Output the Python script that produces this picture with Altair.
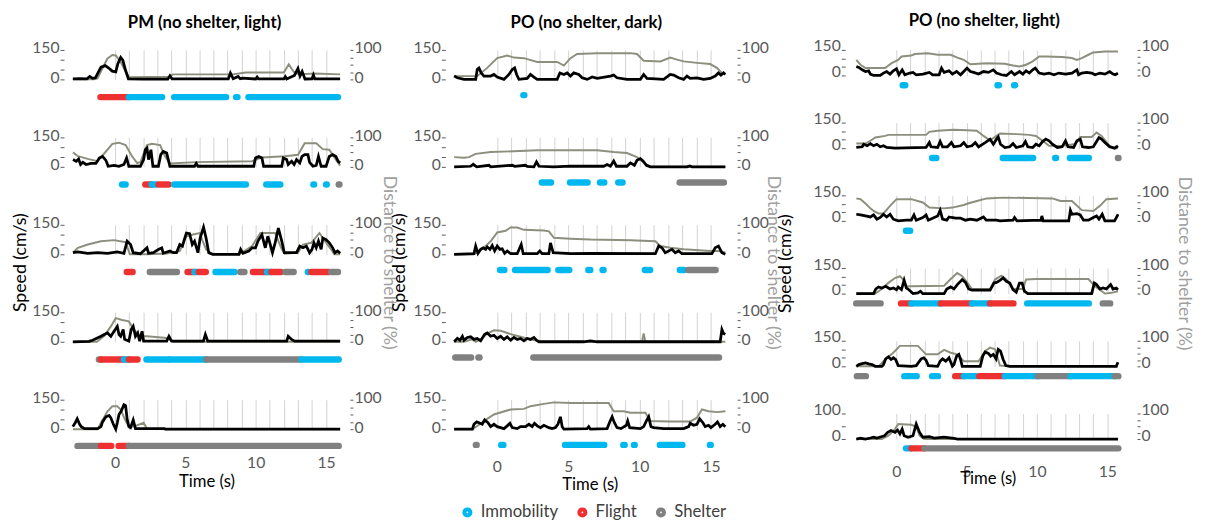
import altair as alt
import pandas as pd

# ---------------- data ----------------
T_DOMAIN = [-3, 16]
GRID_SECONDS = list(range(0, 16))
X_LABEL_SECONDS = [0, 5, 10, 15]
BEHAVIOURS = ["Immobility", "Flight", "Shelter"]
BEHAVIOUR_COLOURS = ["#00B8F0", "#EE3030", "#808080"]
BEHAVIOUR_CODE = {"I": "Immobility", "F": "Flight", "S": "Shelter"}
COLUMN_TITLES = ["PM (no shelter, light)", "PO (no shelter, dark)", "PO (no shelter, light)"]
SPEED_MAX = [[150] * 5, [150] * 5, [150, 150, 150, 150, 150, 100]]

# ---- PM (no shelter, light) ----
pm_light_speed = [
    [(-3, 3), (-2.5, 4), (-2.0, 3), (-1.8, 15), (-1.6, 5), (-1.4, 8), (-1.25, 28), (-1.0, 62), (-0.7, 70),
     (-0.45, 58), (-0.2, 42), (0.05, 38), (0.2, 80), (0.4, 112), (0.55, 98), (0.75, 45), (0.95, 2), (2, 1),
     (3.75, 1), (3.9, 18), (4.05, 2), (8.05, 2), (8.2, 32), (8.4, 3), (8.75, 15), (8.9, 3), (9.05, 6), (10.0, 2),
     (10.1, 12), (10.2, 2), (12.0, 2), (12.1, 14), (12.2, 2), (12.75, 20), (13.0, 55), (13.15, 18), (13.3, 40),
     (13.5, 2), (14.0, 3), (14.1, 22), (14.2, 2), (16.0, 3)],
    [(-2.99, 37), (-2.76, 28), (-2.59, 40), (-2.45, 12), (-2.29, 23), (-2.06, 12), (-1.71, 17), (-1.36, 17),
     (-1.12, 45), (-0.89, 53), (-0.65, 33), (-0.49, 3), (-0.07, 7), (0.28, 3), (0.63, 12), (0.82, 45), (0.98, 3),
     (1.8, 3), (2.03, 37), (2.15, 87), (2.27, 95), (2.38, 37), (2.55, 87), (2.69, 3), (3.08, 3), (3.25, 62),
     (3.43, 78), (3.67, 70), (3.9, 3), (5.65, 3), (5.77, 17), (5.89, 3), (9.86, 3), (9.98, 45), (10.21, 53),
     (10.44, 45), (10.56, 3), (11.85, 3), (11.96, 45), (12.2, 37), (12.31, 12), (12.55, 28), (12.73, 12),
     (12.9, 37), (13.13, 20), (13.29, 53), (13.48, 62), (13.71, 62), (13.83, 23), (14.07, 3), (14.3, 7),
     (14.46, 53), (14.65, 3), (15.0, 3), (15.23, 53), (15.47, 62), (15.7, 53), (15.86, 28), (16.0, 20)],
    [(-2.99, 8), (-2.64, 12), (-1.94, 5), (-1.24, 8), (-0.54, 5), (0.16, 12), (0.63, 5), (0.86, 67), (1.1, 50),
     (1.29, 8), (1.8, 3), (2.27, 33), (2.38, 5), (2.73, 8), (3.08, 25), (3.32, 33), (3.43, 5), (3.9, 17),
     (4.14, 8), (4.37, 8), (4.6, 50), (4.79, 42), (4.91, 72), (5.07, 108), (5.3, 105), (5.49, 50), (5.65, 67),
     (5.89, 8), (6.05, 83), (6.29, 138), (6.47, 83), (6.66, 8), (6.94, 0), (8.81, 0), (8.93, 25), (9.09, 5),
     (9.51, 17), (9.74, 33), (9.98, 33), (10.16, 67), (10.44, 100), (10.68, 33), (10.86, 92), (11.03, 50),
     (11.19, 8), (11.38, 58), (11.61, 133), (11.85, 67), (12.03, 8), (12.9, 8), (13.13, 42), (13.36, 33),
     (13.6, 42), (13.83, 8), (14.0, 25), (14.14, 58), (14.3, 33), (14.46, 67), (14.65, 25), (14.77, 83),
     (15.0, 75), (15.23, 58), (15.47, 33), (15.63, 8), (15.82, 17), (16.0, 5)],
    [(-3, 0), (-1.84, 2), (-1.6, 8), (-1.0, 28), (-0.77, 37), (-0.54, 45), (-0.3, 28), (-0.07, 53), (0.16, 78),
     (0.28, 37), (0.4, 28), (0.58, 62), (0.68, 12), (0.98, 3), (1.15, 62), (1.29, 78), (1.45, 28), (1.61, 45),
     (1.75, 3), (1.92, 53), (2.03, 3), (3.67, 3), (3.83, 28), (4.02, 3), (6.28, 3), (6.42, 37), (6.59, 3),
     (12.2, 3), (12.31, 28), (12.55, 12), (12.78, 3), (16.0, 3)],
    [(-3, 13), (-2.83, 33), (-2.69, 53), (-2.52, 25), (-2.4, 13), (-2.17, 3), (-1.24, 3), (-1.0, 13),
     (-0.89, 37), (-0.65, 63), (-0.42, 70), (-0.3, 58), (-0.12, 25), (0.05, 0), (0.16, 33), (0.28, 75),
     (0.44, 92), (0.63, 125), (0.75, 120), (0.86, 50), (0.98, 13), (1.1, 8), (1.29, 47), (1.45, 3), (3.5, 3),
     (3.6, 0), (16.0, 0)],
]
pm_light_dist = [
    [(-3, 0), (-1.5, 0), (-1.25, 3), (-0.9, 37), (-0.55, 70), (-0.2, 83), (0.05, 81), (0.4, 59), (0.7, 31),
     (1.0, 7), (3.9, 9), (4.1, 17), (8.35, 17), (9.3, 23), (12.0, 23), (12.35, 51), (12.7, 26), (13.05, 17),
     (14.2, 20), (16, 17)],
    [(-2.99, 49), (-2.64, 36), (-1.94, 27), (-1.24, 19), (-0.65, 52), (-0.19, 78), (0.28, 82), (0.75, 74),
     (1.21, 36), (1.57, 13), (1.8, 16), (2.27, 74), (2.62, 78), (3.2, 74), (3.55, 36), (3.9, 11), (5.77, 16),
     (9.74, 19), (10.44, 32), (12.08, 36), (13.01, 41), (13.48, 80), (14.3, 80), (14.77, 60), (15.23, 58),
     (15.7, 24), (16.0, 4)],
    [(-2.99, 6), (-2.64, 22), (-1.94, 33), (-1.0, 44), (-0.07, 48), (0.75, 41), (1.05, 0), (2.27, 0), (3.67, 3),
     (4.6, 11), (5.07, 61), (5.54, 67), (6.0, 72), (6.47, 17), (6.94, 0), (8.81, 0), (9.74, 28), (10.33, 72),
     (11.38, 72), (11.85, 17), (12.08, 2), (13.01, 6), (13.36, 33), (13.95, 39), (14.53, 72), (15.0, 39),
     (15.35, 17), (15.58, 0), (16.0, 0)],
    [(-3, 0), (-1.3, 0), (-0.77, 19), (-0.3, 52), (0.05, 80), (0.5, 74), (0.98, 69), (1.33, 41), (1.8, 19),
     (2.27, 19), (3.67, 13), (4.14, 0), (16.0, 0)],
    [(-3, 0), (-1.24, 0), (-1.0, 22), (-0.54, 61), (-0.19, 78), (0.16, 78), (0.4, 67), (0.75, 28), (0.98, 11),
     (1.33, 9), (2.03, 22), (2.27, 2), (3.67, 0), (16.0, 0)],
]
pm_light_events = [
    [(-1.04, 0.98, "F"), (0.98, 3.35, "I"), (4.2, 7.9, "I"), (8.6, 8.7, "I"), (9.48, 15.85, "I")],
    [(0.5, 0.75, "I"), (2.15, 2.6, "F"), (2.6, 2.9, "I"), (3.1, 3.8, "F"), (4.2, 9.3, "I"), (10.75, 11.75, "I"),
     (14.1, 14.15, "I"), (15.0, 15.05, "I"), (15.9, 15.95, "S")],
    [(0.83, 1.25, "F"), (2.47, 4.4, "S"), (5.15, 5.65, "F"), (5.65, 5.85, "I"), (5.95, 6.45, "F"),
     (7.14, 8.5, "I"), (8.9, 9.2, "S"), (9.8, 10.8, "F"), (10.8, 11.1, "I"), (11.1, 11.8, "F"),
     (12.1, 12.7, "S"), (13.7, 13.75, "I"), (13.95, 15.2, "F"), (15.35, 15.85, "S")],
    [(-1.15, -1.0, "S"), (-1.0, 0.63, "F"), (0.63, 0.98, "I"), (0.98, 1.6, "F"), (2.23, 3.8, "I"),
     (3.9, 6.47, "I"), (6.47, 13.25, "S"), (13.25, 15.9, "I")],
    [(-2.67, -1.0, "S"), (-1.0, -0.27, "F"), (0.25, 0.98, "F"), (0.98, 15.9, "S")],
]

# ---- PO (no shelter, dark) ----
po_dark_speed = [
    [(-3.0, 17), (-2.77, 8), (-2.31, 0), (-1.49, 0), (-1.38, 50), (-1.26, 58), (-1.1, 33), (-0.91, 17),
     (-0.44, 17), (-0.21, 25), (0.02, 12), (0.49, 0), (0.84, 25), (1.07, 50), (1.24, 58), (1.38, 25), (1.54, 0),
     (2.12, 5), (2.35, 25), (2.59, 12), (2.82, 0), (4.22, 0), (4.41, 33), (4.69, 25), (4.92, 33), (5.15, 17),
     (5.38, 33), (5.73, 25), (5.97, 8), (6.32, 0), (6.67, 12), (7.02, 5), (7.95, 17), (8.18, 22), (8.41, 8),
     (9.11, 0), (10.05, 0), (10.28, 25), (10.51, 5), (11.68, 0), (12.14, 25), (12.38, 22), (12.73, 8),
     (13.08, 0), (13.31, 17), (13.54, 5), (14.01, 8), (14.48, 0), (14.94, 5), (15.29, 17), (15.52, 33),
     (15.69, 22), (15.87, 33), (16.0, 25)],
    [(-3, 0), (-1.84, 3), (-1.66, 13), (-1.42, 0), (-0.56, 8), (-0.44, 0), (1.07, 8), (1.24, 3), (2.0, 8),
     (2.12, 2), (2.59, 0), (2.77, 25), (2.94, 3), (3.99, 0), (5.15, 3), (7.48, 3), (7.72, 12), (7.95, 3),
     (8.18, 30), (8.37, 3), (9.11, 3), (9.35, 20), (9.63, 8), (9.81, 33), (10.05, 42), (10.23, 30), (10.47, 8),
     (10.75, 0), (13.31, 0), (13.5, 5), (13.66, 0), (16.0, 0)],
    [(-3, 0), (-1.61, 3), (-1.49, 42), (-1.33, 5), (-1.14, 25), (-0.96, 33), (-0.79, 25), (-0.68, 38),
     (-0.49, 25), (-0.33, 45), (-0.16, 17), (0.02, 42), (0.21, 25), (0.37, 28), (0.54, 5), (0.72, 17),
     (0.96, 3), (1.42, 3), (1.7, 50), (1.84, 3), (2.82, 3), (3.0, 17), (3.17, 3), (3.64, 3), (3.75, 58),
     (3.94, 8), (5.15, 3), (6.55, 5), (11.1, 3), (11.33, 42), (11.56, 33), (11.79, 8), (12.26, 25), (12.49, 8),
     (12.73, 17), (12.96, 3), (15.06, 3), (15.29, 33), (15.52, 42), (15.76, 8), (16.0, 0)],
    [(-3, 0), (-2.77, 17), (-2.59, 8), (-2.42, 28), (-2.31, 8), (-2.07, 22), (-1.84, 25), (-1.61, 12),
     (-1.38, 17), (-1.14, 5), (-0.86, 38), (-0.68, 45), (-0.44, 28), (-0.21, 33), (0.02, 17), (0.26, 28),
     (0.49, 12), (0.72, 25), (0.96, 8), (1.19, 22), (1.42, 12), (1.65, 17), (1.89, 5), (2.12, 17), (2.35, 12),
     (2.59, 22), (2.77, 8), (2.94, 0), (6.08, 0), (6.55, 5), (7.02, 0), (15.64, 0), (15.76, 62), (15.87, 42),
     (16.0, 38)],
    [(-3, 0), (-1.72, 0), (-1.61, 25), (-1.42, 37), (-1.26, 33), (-1.03, 25), (-0.86, 47), (-0.63, 33),
     (-0.44, 13), (-0.21, 25), (0.02, 13), (0.49, 3), (0.72, 17), (0.91, 30), (1.07, 8), (1.42, 3), (1.65, 13),
     (2.0, 13), (2.24, 25), (2.47, 13), (2.63, 30), (2.82, 17), (3.05, 8), (3.29, 20), (3.64, 8), (3.87, 3),
     (4.1, 8), (4.27, 25), (4.45, 63), (4.57, 13), (4.69, 0), (6.32, 3), (6.43, 13), (6.55, 0), (7.72, 3),
     (7.9, 37), (8.07, 63), (8.23, 33), (8.41, 8), (8.69, 3), (9.07, 20), (9.16, 42), (9.3, 8), (10.05, 3),
     (10.28, 13), (10.47, 42), (10.63, 63), (10.79, 13), (10.98, 8), (11.68, 3), (13.08, 3), (13.43, 13),
     (13.54, 30), (13.78, 20), (14.01, 25), (14.2, 53), (14.43, 33), (14.59, 13), (14.83, 20), (14.99, 8),
     (15.29, 25), (15.45, 37), (15.64, 13), (15.83, 25), (16.0, 13)],
]
po_dark_dist = [
    [(-3, 11), (-1.38, 11), (-0.68, 39), (0.02, 72), (0.72, 81), (1.19, 74), (1.89, 72), (2.82, 59), (4.22, 59),
     (4.69, 47), (5.15, 72), (5.62, 86), (7.02, 89), (9.35, 89), (9.81, 86), (10.28, 63), (11.45, 61),
     (12.14, 74), (12.61, 67), (13.08, 61), (14.01, 56), (14.94, 52), (15.41, 39), (15.76, 22), (16.0, 17)],
    [(-3, 33), (-2.3, 31), (-1.96, 33), (-1.49, 44), (-0.44, 50), (1.19, 53), (2.82, 56), (7.02, 56),
     (8.18, 50), (9.11, 47), (9.81, 33), (10.4, 11), (10.75, 0), (16.0, 0)],
    [(-3, 0), (-1.61, 0), (-0.91, 22), (-0.44, 44), (0.02, 74), (0.61, 80), (0.96, 91), (1.42, 91), (1.89, 83),
     (3.29, 81), (3.64, 78), (3.99, 56), (5.15, 53), (6.55, 50), (9.35, 48), (11.1, 44), (11.45, 28),
     (12.14, 22), (13.08, 17), (14.94, 11), (15.52, 11), (16.0, 6)],
    [(-3, 0), (-2.31, 0), (-1.73, 8), (-1.49, 0), (-1.14, 8), (-0.68, 28), (-0.21, 39), (0.26, 37), (0.96, 26),
     (1.65, 17), (2.35, 8), (2.82, 3), (3.05, 0), (10.16, 0), (10.28, 28), (10.4, 0), (16.0, 0)],
    [(-3, 0), (-1.72, 0), (-1.38, 11), (-0.91, 28), (-0.21, 50), (0.96, 67), (1.89, 69), (2.35, 78), (3.29, 86),
     (3.99, 91), (5.15, 89), (7.83, 89), (8.18, 61), (8.88, 61), (9.35, 56), (10.4, 56), (10.75, 28),
     (12.14, 26), (13.54, 26), (14.01, 39), (14.36, 67), (14.83, 61), (15.41, 58), (16.0, 61)],
]
po_dark_events = [
    [(1.85, 1.92, "I")],
    [(3.14, 3.79, "I"), (5.12, 6.35, "I"), (7.22, 7.52, "I"), (8.5, 8.8, "I"), (12.8, 15.9, "S")],
    [(0.22, 0.52, "I"), (1.27, 3.55, "I"), (4.3, 5.07, "I"), (6.4, 6.54, "I"), (7.4, 7.47, "I"),
     (10.36, 10.73, "I"), (12.81, 13.11, "I"), (13.4, 15.32, "S")],
    [(-2.92, -1.81, "S"), (-1.3, -1.22, "S"), (2.55, 15.56, "S")],
    [(-1.48, -1.42, "S"), (0.3, 0.45, "I"), (4.77, 7.52, "I"), (8.85, 8.95, "I"), (9.6, 9.65, "I"),
     (11.41, 12.99, "I"), (14.92, 14.98, "I")],
]

# ---- PO (no shelter, light) ----
po_light_speed = [
    [(-2.84, 53), (-2.66, 47), (-2.42, 33), (-2.19, 23), (-1.96, 27), (-1.84, 8), (-1.61, 0), (-1.14, 0),
     (-0.91, 14), (-0.68, 23), (-0.44, 8), (-0.21, 27), (0.02, 39), (0.19, 4), (0.42, 33), (0.61, 4), (0.96, 14),
     (1.19, 18), (1.42, 4), (1.89, 8), (2.35, 18), (2.59, 4), (3.05, 4), (3.22, 43), (3.4, 18), (3.75, 27),
     (3.99, 8), (4.29, 23), (4.57, 4), (4.8, 23), (5.03, 43), (5.27, 23), (5.5, 18), (5.85, 8), (6.2, 23),
     (6.55, 18), (6.9, 33), (7.13, 14), (7.48, 4), (7.83, 0), (8.18, 23), (8.41, 4), (8.76, 23), (9.0, 8),
     (9.23, 27), (9.46, 14), (9.7, 33), (9.88, 43), (10.16, 14), (10.51, 8), (10.86, 14), (11.21, 4),
     (11.56, 14), (12.03, 8), (12.49, 14), (12.84, 33), (12.96, 4), (13.19, 14), (13.54, 18), (13.89, 14),
     (14.13, 4), (14.48, 14), (14.83, 8), (15.17, 23), (15.41, 8), (15.57, 4), (15.76, 14)],
    [(-2.84, 4), (-2.42, 8), (-2.31, 23), (-2.07, 14), (-1.84, 27), (-1.61, 14), (-1.38, 23), (-1.14, 8),
     (-0.91, 14), (-0.68, 4), (-0.09, 0), (2.12, 4), (2.35, 33), (2.47, 8), (2.94, 4), (3.12, 39), (3.29, 8),
     (3.64, 8), (3.92, 33), (4.1, 8), (4.57, 14), (4.8, 33), (5.03, 8), (5.38, 14), (5.62, 33), (5.85, 8),
     (6.32, 33), (6.67, 53), (6.9, 23), (7.13, 53), (7.25, 66), (7.41, 23), (7.72, 4), (8.07, 8), (8.3, 27),
     (8.53, 4), (9.0, 14), (9.18, 39), (9.35, 8), (9.7, 4), (9.93, 23), (10.16, 14), (10.4, 39), (10.63, 53),
     (10.86, 43), (11.1, 23), (11.45, 4), (11.79, 8), (12.03, 43), (12.21, 8), (12.61, 4), (12.84, 43),
     (13.08, 53), (13.24, 8), (13.66, 4), (14.01, 8), (14.24, 39), (14.41, 62), (14.59, 53), (14.83, 33),
     (15.17, 8), (15.52, 0), (15.76, 14)],
    [(-2.84, 39), (-2.54, 35), (-2.19, 29), (-1.84, 23), (-1.61, 35), (-1.38, 10), (-1.14, 20), (-0.91, 39),
     (-0.68, 23), (-0.44, 39), (-0.21, 10), (0.14, 0), (0.72, 4), (1.07, 4), (1.26, 35), (1.42, 4), (1.89, 20),
     (2.12, 35), (2.28, 4), (2.7, 20), (2.94, 29), (3.12, 62), (3.29, 10), (3.59, 4), (3.75, 23), (3.92, 20),
     (4.22, 16), (4.57, 16), (4.92, 4), (5.27, 10), (5.73, 4), (6.2, 23), (6.39, 4), (7.13, 4), (7.37, 0),
     (8.3, 4), (8.41, 20), (8.58, 0), (10.28, 4), (10.35, 29), (10.44, 0), (12.26, 0), (12.38, 62), (12.49, 39),
     (12.84, 43), (13.08, 35), (13.31, 4), (13.66, 4), (14.01, 20), (14.24, 29), (14.41, 10), (14.64, 39),
     (14.83, 0), (15.52, 0), (15.71, 29), (15.76, 39)],
    [(-2.84, 0), (-1.61, 0), (-1.45, 27), (-1.26, 39), (-1.03, 33), (-0.75, 43), (-0.44, 27), (-0.21, 33),
     (0.02, 23), (0.14, 39), (0.37, 23), (0.56, 78), (0.72, 33), (0.84, 27), (1.19, 0), (1.54, 4), (1.72, 14),
     (1.89, 0), (3.4, 0), (3.59, 27), (3.87, 39), (4.1, 27), (4.34, 53), (4.69, 82), (4.92, 66), (5.15, 27),
     (5.38, 20), (6.67, 20), (6.95, 62), (7.13, 66), (7.37, 78), (7.6, 92), (7.83, 72), (8.07, 62), (8.3, 23),
     (8.53, 8), (8.76, 62), (8.95, 62), (9.11, 14), (9.35, 0), (13.89, 0), (14.08, 62), (14.24, 53),
     (14.48, 27), (14.71, 33), (14.94, 27), (15.24, 53), (15.41, 27), (15.64, 33), (15.76, 23)],
    [(-2.84, 0), (-2.66, 10), (-2.42, 16), (-2.19, 20), (-1.96, 14), (-1.72, 10), (-1.49, 0), (-1.03, 0),
     (-0.91, 10), (-0.75, 44), (-0.56, 56), (-0.37, 40), (-0.21, 50), (-0.05, 40), (0.14, 4), (1.07, 0),
     (1.42, 4), (1.77, 44), (1.96, 50), (2.12, 36), (2.28, 4), (2.94, 0), (3.12, 30), (3.29, 44), (3.52, 30),
     (3.75, 50), (3.99, 0), (4.1, 10), (4.29, 60), (4.45, 70), (4.57, 40), (4.69, 0), (5.97, 0), (6.15, 60),
     (6.32, 84), (6.55, 76), (6.71, 60), (6.9, 70), (7.09, 44), (7.25, 100), (7.41, 90), (7.6, 40), (7.79, 4),
     (8.07, 0), (15.64, 0), (15.76, 24)],
    [(-2.84, 0), (-2.54, 3), (-2.19, 0), (-1.84, 4), (-1.61, 7), (-1.38, 4), (-1.07, 9), (-0.84, 13),
     (-0.61, 26), (-0.37, 33), (-0.09, 26), (0.09, 35), (0.26, 20), (0.42, 39), (0.56, 13), (0.84, 7),
     (1.19, 13), (1.42, 59), (1.66, 26), (1.89, 7), (2.35, 9), (2.7, 4), (3.4, 7), (4.1, 3), (4.34, 0),
     (15.76, 0)],
]
po_light_dist = [
    [(-2.84, 61), (-2.54, 42), (-2.19, 29), (-0.79, 29), (-0.33, 48), (0.14, 61), (0.37, 74), (1.07, 78),
     (1.31, 84), (2.24, 87), (2.94, 81), (3.87, 81), (4.34, 70), (4.8, 61), (5.27, 44), (6.43, 48), (7.71, 46),
     (8.3, 39), (8.76, 35), (9.23, 42), (9.7, 55), (10.16, 74), (10.63, 74), (11.79, 72), (12.49, 68),
     (12.84, 61), (13.19, 68), (13.66, 81), (14.01, 90), (14.83, 94), (15.76, 94)],
    [(-2.84, 18), (-2.19, 18), (-1.84, 29), (-1.49, 42), (-0.79, 48), (-0.56, 52), (0.14, 52), (2.12, 52),
     (2.35, 64), (2.94, 68), (4.1, 72), (5.03, 70), (5.73, 68), (6.2, 48), (6.67, 31), (7.13, 48), (7.37, 57),
     (8.53, 55), (9.46, 52), (9.93, 48), (10.4, 29), (10.86, 9), (11.79, 9), (12.72, 16), (13.08, 44),
     (13.89, 44), (14.24, 61), (14.59, 48), (15.17, 9), (15.52, 0), (15.76, 0)],
    [(-2.84, 88), (-2.54, 85), (-2.19, 68), (-1.84, 49), (-1.61, 39), (-1.26, 29), (-0.91, 29), (-0.44, 59),
     (0.02, 85), (1.07, 85), (1.89, 72), (2.35, 52), (3.4, 49), (3.99, 52), (4.8, 62), (5.15, 69), (5.73, 78),
     (6.43, 88), (7.6, 91), (11.1, 88), (11.68, 78), (12.49, 78), (13.19, 42), (14.01, 39), (14.48, 59),
     (14.94, 85), (15.76, 88)],
    [(-2.84, 0), (-1.49, 0), (-1.03, 18), (-0.56, 42), (-0.09, 61), (0.26, 68), (0.49, 55), (0.72, 29),
     (1.07, 29), (3.4, 31), (3.87, 57), (4.34, 81), (4.69, 68), (5.04, 44), (5.38, 18), (6.67, 18), (7.02, 55),
     (7.48, 70), (7.83, 55), (8.3, 18), (9.0, 18), (9.23, 55), (9.93, 57), (13.66, 57), (14.13, 29),
     (14.83, 0), (15.29, 3), (15.76, 9)],
    [(-2.84, 0), (-1.26, 0), (-0.79, 27), (-0.21, 53), (0.26, 80), (1.54, 80), (2.12, 47), (2.94, 47),
     (3.4, 64), (3.87, 53), (4.34, 47), (4.8, 20), (5.85, 20), (6.32, 60), (6.67, 73), (7.02, 67), (7.37, 3),
     (8.07, 0), (15.76, 0)],
    [(-2.84, 0), (-1.03, 0), (-0.56, 13), (-0.09, 39), (0.14, 59), (1.07, 56), (1.42, 48), (1.66, 13),
     (2.0, 0), (15.76, 0)],
]
po_light_events = [
    [(0.46, 0.64, "I"), (7.2, 7.3, "I"), (8.38, 8.45, "I")],
    [(2.55, 2.85, "I"), (7.57, 9.73, "I"), (11.3, 11.36, "I"), (12.34, 13.69, "I"), (15.76, 15.8, "S")],
    [(0.69, 0.99, "I")],
    [(-2.85, -1.11, "S"), (0.34, 1.07, "F"), (1.07, 3.17, "I"), (3.17, 5.38, "F"), (5.38, 6.67, "I"),
     (6.67, 8.33, "F"), (9.31, 13.69, "I"), (14.68, 15.21, "S")],
    [(-2.8, -2.16, "S"), (0.57, 1.45, "I"), (2.55, 2.97, "I"), (4.19, 4.8, "F"), (4.8, 5.65, "I"),
     (5.9, 7.72, "F"), (7.72, 10.05, "I"), (10.05, 12.38, "S"), (12.38, 15.52, "I"), (15.52, 15.79, "S")],
    [(0.69, 1.07, "I"), (1.07, 2.0, "F"), (2.0, 15.79, "S")],
]

COLUMNS = [
    (pm_light_speed, pm_light_dist, pm_light_events),
    (po_dark_speed, po_dark_dist, po_dark_events),
    (po_light_speed, po_light_dist, po_light_events),
]

# ---------------- style / layout ----------------
FONT = "Lato"
AXIS_GREY = "#595959"
GAP = 4  # vertical spacing between stacked panels/strips
COL_LAYOUT = [
    dict(w=272, h=30, strip_h=50.5, strip_dy=-11.25, last_h=18, last_dy=4, title_panel=2, title_y=38,
         speed_tx=-44, dist_off=10, dist_tx=39, label_dy=-2, time_label_pad=4, time_title_y=31),
    dict(w=276, h=30, strip_h=51, strip_dy=-13.5, last_h=18, last_dy=3, title_panel=2, title_y=38,
         speed_tx=-46, dist_off=12, dist_tx=36, label_dy=-2, time_label_pad=8, time_title_y=34),
    dict(w=272, h=26, strip_h=39.4, strip_dy=-13.7, last_h=16, last_dy=-2.5, title_panel=3, title_y=-5,
         speed_tx=-61, dist_off=16, dist_tx=47, label_dy=-4, time_label_pad=5, time_title_y=20),
]

x_scale = alt.Scale(domain=T_DOMAIN, nice=False, zero=False)
colour_scale = alt.Scale(domain=BEHAVIOURS, range=BEHAVIOUR_COLOURS)
legend = alt.Legend(title=None, orient="none", legendX=393, legendY=462, direction="horizontal",
                    symbolType="circle", symbolSize=18, symbolStrokeWidth=6, labelFontSize=17,
                    labelFont=FONT, labelColor="#404040", columnPadding=10, labelOffset=5)


def panel(speed, dist, smax, lay, with_titles):
    sdf = pd.DataFrame(speed, columns=["t", "v"])
    ddf = pd.DataFrame(dist, columns=["t", "v"])
    x_axis = alt.Axis(values=GRID_SECONDS, grid=True, gridColor="#d2d2d2", gridWidth=1, labels=False,
                      ticks=False, domain=False, title=None)
    x = alt.X("t:Q", scale=x_scale, axis=x_axis)
    s_ticks = [v for v in (0, 50, 100, 150) if v <= smax]
    s_axis_kw = dict(orient="left", values=s_ticks,
                     labelExpr=f"datum.value == 0 || datum.value == {smax} ? datum.label : ''",
                     labelFontSize=16, labelColor=AXIS_GREY, labelFont=FONT, labelPadding=1, tickSize=4,
                     tickColor=AXIS_GREY, domain=False, grid=False, offset=9, labelFlush=False,
                     labelOverlap=False, labelOffset=lay["label_dy"])
    d_axis_kw = dict(orient="right", values=[0, 25, 50, 75, 100],
                     labelExpr="datum.value == 0 || datum.value == 100 ? datum.label : ''",
                     labelFontSize=16, labelColor=AXIS_GREY, labelFont=FONT, labelPadding=1, tickSize=3,
                     tickColor=AXIS_GREY, domain=False, grid=False, offset=lay["dist_off"], labelFlush=False,
                     labelOverlap=False, labelOffset=lay["label_dy"])
    if with_titles:
        s_axis_kw.update(title="Speed (cm/s)", titleFontSize=18, titleFont=FONT, titleFontWeight="normal",
                         titleColor="black", titleY=lay["title_y"], titleX=lay["speed_tx"],
                         titleBaseline="middle", titleAlign="center", titleAngle=270)
        d_axis_kw.update(title="Distance to shelter (%)", titleFontSize=18, titleFont=FONT,
                         titleFontWeight="normal", titleColor="#a0a0a0", titleY=lay["title_y"],
                         titleX=lay["dist_tx"], titleBaseline="middle", titleAlign="center", titleAngle=90)
    else:
        s_axis_kw.update(title=None)
        d_axis_kw.update(title=None)
    dist_line = alt.Chart(ddf).mark_line(color="#8e8e7e", strokeWidth=2).encode(
        x=x, y=alt.Y("v:Q", scale=alt.Scale(domain=[0, 100], nice=False), axis=alt.Axis(**d_axis_kw)))
    speed_line = alt.Chart(sdf).mark_line(color="black", strokeWidth=2.8).encode(
        x=x, y=alt.Y("v:Q", scale=alt.Scale(domain=[0, smax], nice=False), axis=alt.Axis(**s_axis_kw)))
    return alt.layer(dist_line, speed_line).resolve_scale(y="independent").properties(
        width=lay["w"], height=lay["h"])


def strip(events, lay, last):
    edf = pd.DataFrame(events, columns=["start", "end", "code"])
    edf["behaviour"] = edf["code"].map(BEHAVIOUR_CODE)
    if last:
        axis = alt.Axis(values=X_LABEL_SECONDS, labelFontSize=16, labelColor=AXIS_GREY, labelFont=FONT,
                        domain=False, ticks=False, grid=False, labelPadding=lay["time_label_pad"],
                        labelFlush=False, title="Time (s)", titleFontSize=17, titleFont=FONT,
                        titleFontWeight="normal", titleColor="black", titleY=lay["time_title_y"],
                        titleBaseline="middle")
        h, dy = lay["last_h"], lay["last_dy"]
    else:
        axis = alt.Axis(grid=False, labels=False, ticks=False, domain=False, title=None)
        h, dy = lay["strip_h"], lay["strip_dy"]
    return alt.Chart(edf).mark_rule(strokeCap="round", strokeWidth=6.5, yOffset=dy).encode(
        x=alt.X("start:Q", scale=x_scale, axis=axis),
        x2="end:Q",
        color=alt.Color("behaviour:N", scale=colour_scale, legend=legend),
    ).properties(width=lay["w"], height=h)


columns = []
for ci, (speeds, dists, events) in enumerate(COLUMNS):
    lay = COL_LAYOUT[ci]
    n = len(speeds)
    items = []
    for pi in range(n):
        items.append(panel(speeds[pi], dists[pi], SPEED_MAX[ci][pi], lay, pi == lay["title_panel"]))
        items.append(strip(events[pi], lay, pi == n - 1))
    col = alt.vconcat(*items, spacing=GAP, bounds="flush",
                      title=alt.TitleParams(COLUMN_TITLES[ci], fontSize=17, font=FONT, fontWeight="bold",
                                            color="black", anchor="middle", offset=8))
    columns.append(col)

chart = alt.hconcat(*columns, spacing=-6).properties(
    padding={"left": 4, "top": 0, "right": 5, "bottom": 3},
).configure(
    font=FONT,
    view=alt.ViewConfig(stroke="transparent", strokeWidth=0),
)

chart.save("out.html", embed_options={"renderer": "svg", "actions": False})
